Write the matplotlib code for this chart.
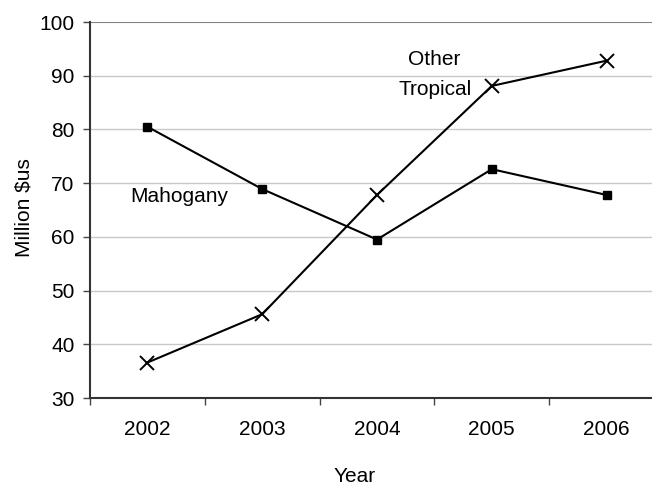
import numpy as np
import matplotlib.pyplot as plt

plt.rcParams['font.family'] = ['Liberation Sans', 'DejaVu Sans']

years = ['2002', '2003', '2004', '2005', '2006']
mahogany = [80.5, 68.9, 59.5, 72.6, 67.8]
other_tropical = [36.6, 45.6, 67.8, 88.1, 92.8]

fig = plt.figure(figsize=(6.52, 4.87), dpi=100)
# plot area runs a little past the right edge of the figure
ax = fig.add_axes([90/652, 1-398/487, (664-90)/652, (398-22)/487])

x = np.arange(len(years))
ax.plot(x, mahogany, color='black', lw=1.5, marker='s', ms=5.5)
ax.plot(x, other_tropical, color='black', lw=1.5, marker='x', ms=10, mew=1.4)

ax.set_xlim(-0.5, len(years)-0.5)
ax.set_ylim(30, 100)
ax.set_yticks(np.arange(30, 101, 10))
ax.set_xticks(x)
ax.set_xticklabels(years)
ax.set_xticks(np.arange(-0.5, len(years), 1), minor=True)
ax.tick_params(axis='x', which='major', length=0, pad=16, labelsize=15)
ax.tick_params(axis='x', which='minor', length=5, width=1, color='#444444')
ax.tick_params(axis='y', length=5, width=1, color='#444444', labelsize=15, pad=6)

for v in range(40, 100, 10):
    ax.axhline(v, color='#c8c8c8', lw=1, zorder=0)
ax.axhline(100, color='#808080', lw=1.5, zorder=0)

for s in ['top', 'right']:
    ax.spines[s].set_visible(False)
ax.spines['left'].set_linewidth(1.5)
ax.spines['bottom'].set_linewidth(1.5)
ax.spines['left'].set_color('#333333')
ax.spines['bottom'].set_color('#333333')

ax.text(0.28, 67.6, 'Mahogany', fontsize=15, ha='center', va='center')
ax.text(2.5, 93.1, 'Other', fontsize=15, ha='center', va='center')
ax.text(2.51, 87.4, 'Tropical', fontsize=15, ha='center', va='center')

fig.text(24/652, 1-208/487, 'Million $us', rotation=90, fontsize=15, ha='center', va='center')
fig.text(355/652, 1-477/487, 'Year', fontsize=15, ha='center', va='center')

fig.savefig('out.png', dpi=100)
